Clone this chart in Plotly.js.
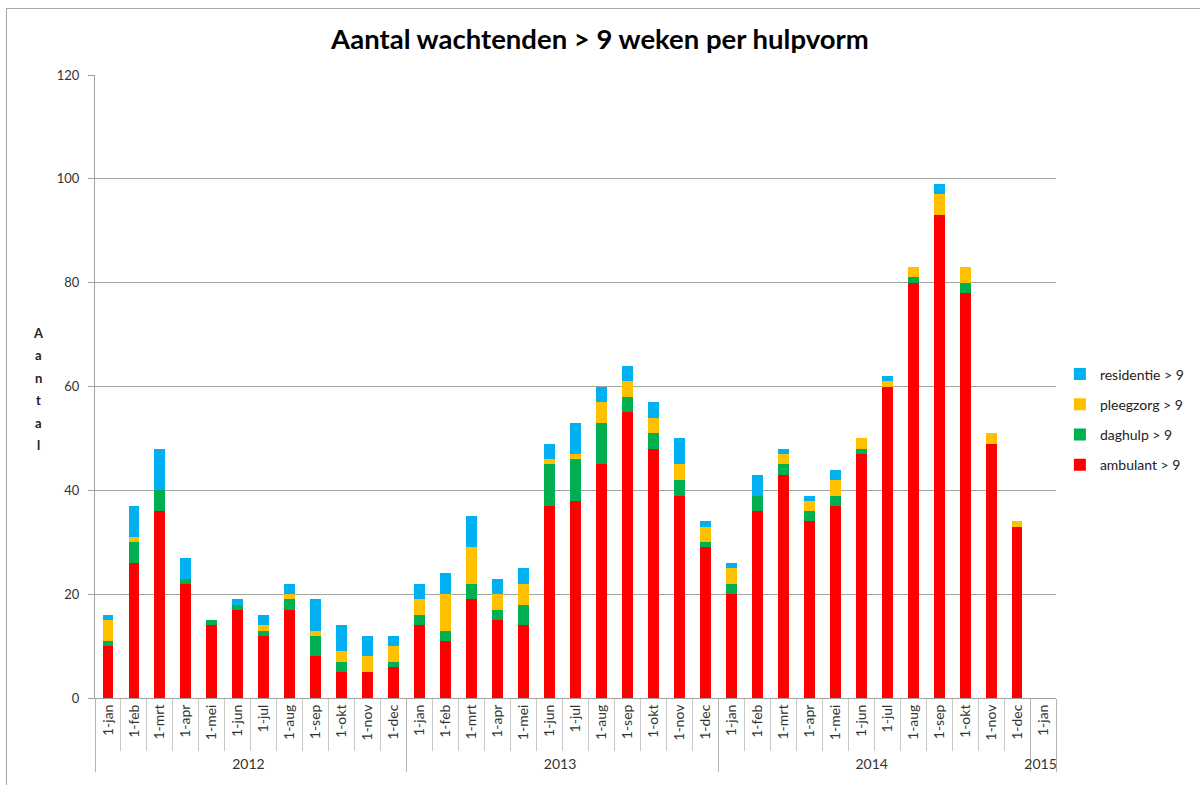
<!DOCTYPE html>
<html>
<head>
<meta charset="utf-8">
<script src="https://cdn.plot.ly/plotly-3.0.1.min.js"></script>
<style>
  body { margin: 0; padding: 0; background: #fff; }
  #chart { position: absolute; left: 0; top: 0; width: 1200px; height: 785px; }
  #frame { position: absolute; left: 6px; top: 8px; width: 1200px; height: 800px; border: 1px solid #a6a6a6; pointer-events: none; }
</style>
</head>
<body>
<div id="chart"></div>
<div id="frame"></div>
<script>
const monthNames = ['1-jan','1-feb','1-mrt','1-apr','1-mei','1-jun','1-jul','1-aug','1-sep','1-okt','1-nov','1-dec'];
const yearNames = ['2012','2013','2014'];
const lastYear = '2015';
const lastMonth = '1-jan';

const ambulant   = [10,26,36,22,14,17,12,17,8,5,5,6, 14,11,19,15,14,37,38,45,55,48,39,29, 20,36,43,34,37,47,60,80,93,78,49,33, null];
const daghulp    = [1,4,4,1,1,1,1,2,4,2,0,1,         2,2,3,2,4,8,8,8,3,3,3,1,             2,3,2,2,2,1,0,1,0,2,0,0,             null];
const pleegzorg  = [4,1,0,0,0,0,1,1,1,2,3,3,         3,7,7,3,4,1,1,4,3,3,3,3,             3,0,2,2,3,2,1,2,4,3,2,1,             null];
const residentie = [1,6,8,4,0,1,2,2,6,5,4,2,         3,4,6,3,3,3,6,3,3,3,5,1,             1,4,1,1,2,0,1,0,2,0,0,0,             null];

const seriesNames = ['ambulant > 9','daghulp > 9','pleegzorg > 9','residentie > 9'];
const seriesColors = ['#FF0000','#00B050','#FFC000','#00B0F0'];
const seriesValues = [ambulant, daghulp, pleegzorg, residentie];

const xYear = [], xMonth = [];
yearNames.forEach(y => monthNames.forEach(m => { xYear.push(y); xMonth.push(m); }));
xYear.push(lastYear); xMonth.push(lastMonth);

const font = 'Lato, "Open Sans", sans-serif';

const traces = seriesValues.map((vals, i) => ({
  type: 'bar',
  name: seriesNames[i],
  legendgroup: 'g' + i,
  legendrank: 1000 - i,
  x: [xYear, xMonth],
  y: vals,
  marker: { color: seriesColors[i], line: { width: 0 } },
  hoverinfo: 'y+name'
}));

const yTitleLetters = ['A','a','n','t','a','l'];
const annotations = yTitleLetters.map((ch, i) => ({
  text: ch, xref: 'paper', yref: 'paper',
  x: -0.059, y: (698 - 333 - i * 22.4) / 623,
  xanchor: 'center', yanchor: 'middle', showarrow: false,
  font: { family: font, size: 13, color: '#222', weight: 'bold' }
}));

const layout = {
  width: 1200, height: 785,
  margin: { l: 95, r: 143, t: 75, b: 87 },
  paper_bgcolor: '#fff', plot_bgcolor: '#fff',
  barmode: 'stack', bargap: 0.58,
  title: {
    text: '<b>Aantal wachtenden > 9 weken per hulpvorm</b>',
    x: 0.5, xanchor: 'center', y: 0.95, yanchor: 'middle',
    font: { family: font, size: 27.5, color: '#000' }
  },
  font: { family: font, size: 12, color: '#333' },
  showlegend: true,
  legend: {
    x: 1.003, xanchor: 'left', y: 0.545, yanchor: 'top',
    traceorder: 'grouped',
    font: { family: font, size: 14, color: '#222' },
    itemwidth: 30, tracegroupgap: 9,
    bgcolor: 'rgba(0,0,0,0)'
  },
  xaxis: {
    type: 'multicategory',
    tickangle: -90,
    showline: true, linecolor: '#a0a0a0', linewidth: 1,
    ticks: 'outside', tickson: 'boundaries', ticklen: 52, tickcolor: '#c8c8c8',
    showdividers: true, dividercolor: '#b4b4b4', dividerwidth: 1,
    showgrid: false,
    tickfont: { family: font, size: 14, color: '#333' }
  },
  yaxis: {
    range: [0, 120], dtick: 20, tick0: 0,
    showline: true, linecolor: '#a0a0a0', linewidth: 1,
    ticks: 'outside', ticklen: 6, tickcolor: '#a0a0a0',
    showgrid: true, gridcolor: '#a3a3a3', gridwidth: 1,
    zeroline: false,
    tickfont: { family: font, size: 13, color: '#333' },
    ticklabelstandoff: 6
  },
  annotations: annotations
};

Plotly.newPlot('chart', traces, layout, { displayModeBar: false, staticPlot: true });
</script>
</body>
</html>
